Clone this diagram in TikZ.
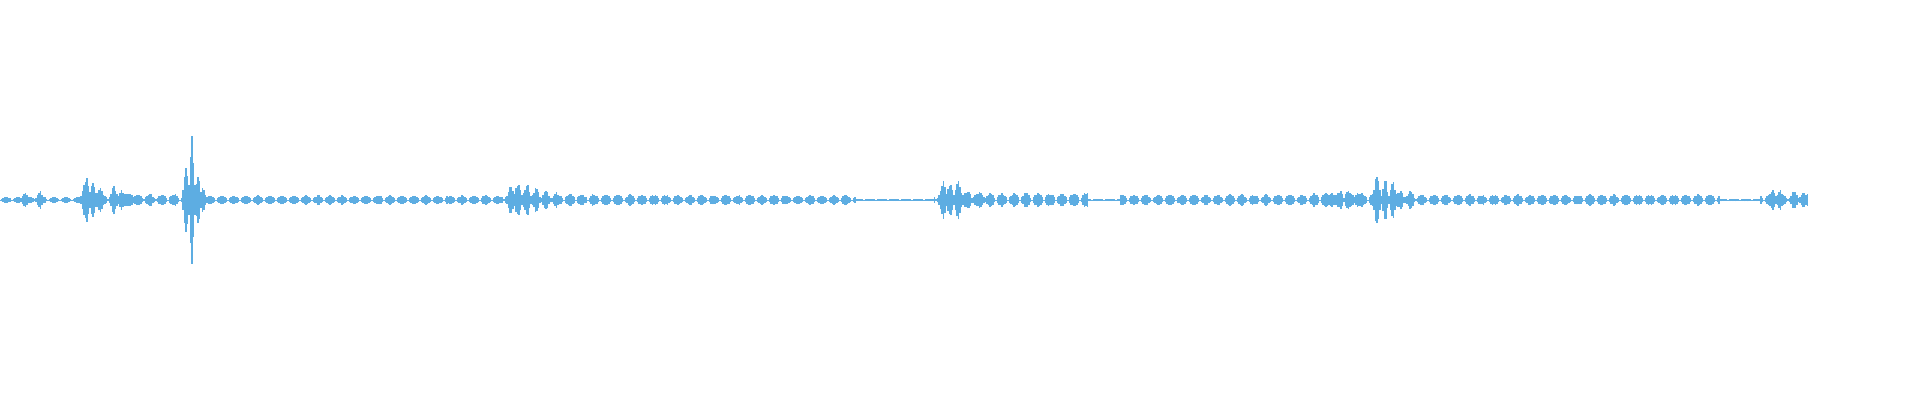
\documentclass[tikz,border=0pt]{standalone}
\definecolor{wave}{RGB}{93,173,226}
\begin{document}
\begin{tikzpicture}[x=1pt,y=1pt,wv/.style={draw=wave,line width=1.3pt}]
\useasboundingbox (0,0) rectangle (1920,400);
\pgfmathsetseed{7}
\draw[wave,line width=0.8pt] (0,200) -- (1808,200);
\foreach \x in {0,1.5,...,1808}{
  \gdef\amp{0}
  \pgfmathsetmacro\lobe{abs(sin(mod(\x,24)*15))}
  \foreach \s/\e/\a in {0/80/3,80/182/6,204/502/4.5,502/640/6,640/856/5,856/934/0.8,934/1089/7,1089/1120/0.8,1120/1313/5.5,1313/1370/7,1370/1413/7,1413/1720/5.5,1720/1760/1,1760/1808/6}{
    \pgfmathsetmacro\v{and(\x>=\s,\x<\e)*\a*\lobe}
    \pgfmathsetmacro\m{max(\amp,\v)}\xdef\amp{\m}
  }
  \foreach \c/\a/\w in {25/9/3,40/9/3,86/24/3.5,93/18/3.5,100/12/3.5,114/15/3.5,122/10/3.5,130/8/3.5,150/7/3.5,186/40/2.5,192/72/2.5,198/30/2.5,203/12/3,511/14/3.5,518/17/3.5,527/18/3.5,536/13/3.5,546/10/3.5,556/8/3.5,943/20/3.5,950/17/3.5,958/20/3.5,968/10/3.5,980/9/3.5,1332/8/3.5,1340/10/3.5,1348/10/3.5,1358/8/3.5,1377/30/3,1385/21/3,1393/20/3,1401/9/3,1411/11/3,1773/10/3.5,1780/10/3.5,1794/10/3.5,1804/9/3.5}{
    \pgfmathsetmacro\d{min(abs(\x-\c)/\w,5)}
    \pgfmathsetmacro\v{\a*exp(-\d*\d)}
    \pgfmathsetmacro\m{max(\amp,\v)}\xdef\amp{\m}
  }
  \pgfmathsetmacro\h{\amp*(0.7+0.3*rnd)+0.4}
  \draw[wv] (\x,200-\h) -- (\x,200+\h);
}
\end{tikzpicture}
\end{document}
